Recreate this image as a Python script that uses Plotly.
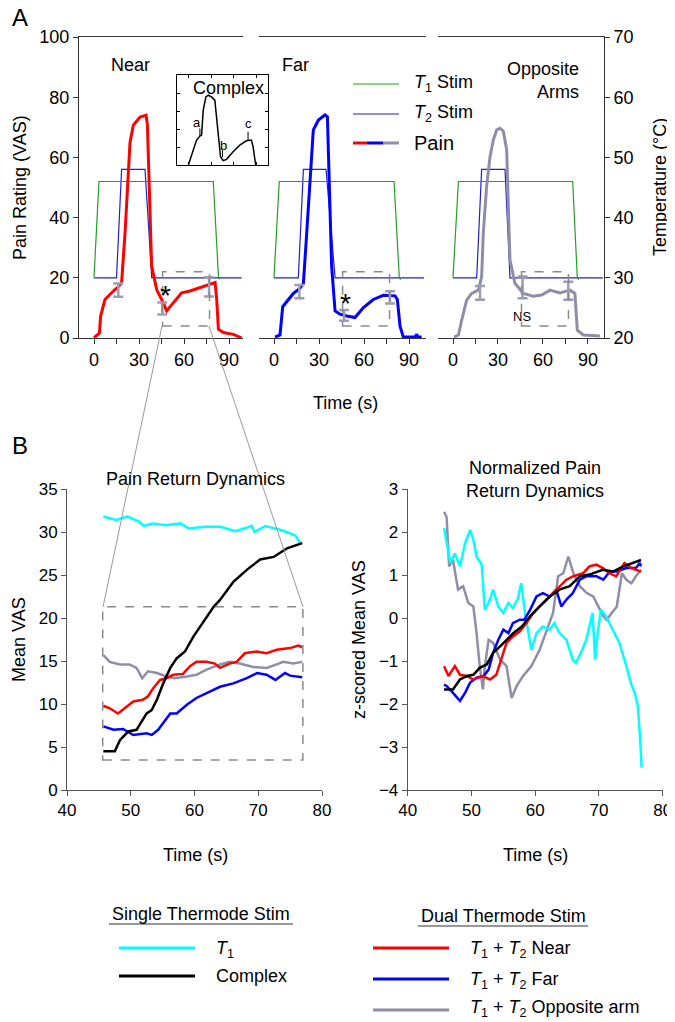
#
#   plot.py
#   Pain ratings during single / dual thermode stimulation (panel A)
#   and pain return dynamics, raw and z-scored (panel B)
#

import plotly.graph_objects as go

#
#   Panel A data : time (s) vs pain (VAS) and thermode temperature (deg C)
#
near_t = [0, 3.6, 4.4, 7.3, 12.9, 16.2, 18.4, 20.7, 24, 26.2, 30.7, 34.7, 35.6, 36.9, 38.4,
          41.8, 46.2, 48.4, 52.9, 58.4, 64, 70.7, 77.3, 80.7, 81.8, 82.9, 86.2, 92.9, 98.4]
near_pain = [0.1, 1.6, 7.2, 12.8, 15.6, 17, 18.4, 35, 65, 70.7, 73.4, 74, 70.7, 46, 24,
             16, 11.7, 9, 11.7, 15, 15.6, 16.7, 17.8, 18.4, 12.8, 2.9, 1.8, 1.2, 0]

far_t = [0.7, 4, 5.8, 8.4, 12.9, 17.3, 19.6, 21.8, 24, 26.2, 29.6, 34, 35.6, 36.9, 38.4,
         40.7, 44, 48.4, 54, 59.6, 66.2, 72.9, 80.7, 82.2, 84, 86.2, 94, 95.1, 96, 98.4]
far_pain = [0.3, 1, 10.4, 12.1, 14.8, 16.5, 18.2, 34.8, 53.6, 69.1, 72.4, 74.1, 73.5, 46, 23.9,
            9, 7.9, 7.3, 6.8, 10.1, 12.8, 14.2, 14, 12.8, 3.9, 0.3, 0.3, 1.2, 0.3, 0.3]

opp_t = [0.7, 3.6, 5.8, 9.1, 12.4, 16.9, 19.1, 20.2, 22.4, 24.7, 26.9, 29.1, 31.3, 33.6, 35.8,
         38, 41.3, 46.9, 53.6, 59.1, 64.7, 71.3, 78, 81.3, 82.9, 86.9, 98]
opp_pain = [0.3, 1, 5.9, 12.6, 14.8, 15.9, 20.3, 34.8, 50.3, 60.2, 65.8, 69.1, 69.7, 68.7, 62.5,
            25.9, 18.2, 14.8, 13.9, 14.3, 15.9, 15, 15.9, 14.8, 2.6, 1, 0.7]

# error bars (mean +/- SEM) at the three sampling times
near_err_t = [16.2, 45.5, 76.7]
near_err_v = [15.9, 9.8, 17.0]
near_err_e = [2.2, 2.0, 3.2]
far_err_t = [16.9, 46.7, 77.3]
far_err_v = [15.4, 7.5, 13.5]
far_err_e = [2.2, 1.8, 2.0]
opp_err_t = [18.0, 46.4, 76.9]
opp_err_v = [15.0, 16.8, 15.7]
opp_err_e = [2.3, 3.6, 3.0]

# thermode temperatures
near_t1_t = [0, 3.3, 79.5, 83, 84]
near_t1_temp = [30, 46, 46, 30, 29.8]
near_t2_t = [0, 15, 18.4, 34, 38.5, 98.4]
near_t2_temp = [30, 30, 48, 48, 30, 30]
far_t1_t = [0, 3.5, 80, 83.5, 84.5]
far_t1_temp = [30, 46, 46, 30, 29.7]
far_t2_t = [0, 16.2, 19.6, 34.7, 40.7, 100]
far_t2_temp = [30, 30, 48, 48, 30, 30]
opp_t1_t = [0, 3.6, 79.8, 82.9, 84]
opp_t1_temp = [30, 46, 46, 30, 29.7]
opp_t2_t = [0, 15.8, 19.1, 34.7, 38, 100]
opp_t2_temp = [30, 30, 48, 48, 30, 30]

# inset : complex stimulus pain profile
cx_t = [0, 6.5, 10.8, 15.2, 17.4, 19.6, 23.1, 26.2, 30.5, 34.9, 37.1, 39.3, 42.4, 45.9,
        50.3, 59, 67.8, 76.5, 83.1, 85.3, 88.8]
cx_v = [0, 16.6, 27.7, 32.1, 33.2, 60.9, 75.6, 77.5, 75.6, 72, 53.5, 27.7, 9.2, 4.8,
        6.3, 14.8, 22.1, 26.9, 27.7, 20.3, 0]

#
#   Panel B data : pain return dynamics (Mean VAS)
#
ret_t1_t = [45.7, 46.7, 47.7, 49.5, 51.3, 52.1, 53.4, 55.5, 57.8, 59.1, 61.7, 64.1, 66.4, 69,
            69.4, 71.1, 73.7, 75.8, 76.6]
ret_t1_v = [31.8, 31.6, 31.4, 31.8, 31.2, 30.7, 31, 30.8, 31, 30.4, 30.6, 30.6, 30.1, 30.7,
            30, 30.7, 30.2, 29.6, 28.7]
ret_cx_t = [45.7, 47.5, 48.3, 49.6, 50.9, 51.7, 52.5, 53.3, 54.1, 55.1, 56.2, 57.2, 58.5, 59.8,
            61.4, 63, 64, 66.1, 68.2, 70.3, 72.4, 74.5, 76.9]
ret_cx_v = [4.5, 4.5, 5.8, 6.8, 7, 8, 8.9, 9.3, 10.5, 12.4, 14.2, 15.3, 16.1, 17.8,
            19.6, 21.3, 22.1, 24.2, 25.6, 26.8, 27.1, 28.1, 28.7]
ret_near_t = [45.7, 46.7, 48, 49.3, 50.4, 51.9, 52.7, 53.5, 54.6, 55.6, 56.7, 58.2, 59.3, 60.3,
              61.9, 63.2, 64, 65.5, 66.6, 67.9, 69.7, 71.3, 72.9, 75, 76.3, 76.9]
ret_near_v = [9.8, 9.5, 8.9, 9.7, 10.3, 10.5, 10.9, 11.8, 12.8, 13, 13.4, 13.5, 14.4, 14.9,
              14.9, 14.7, 14.2, 14.7, 14.9, 15.9, 16.1, 15.9, 16.3, 16.5, 16.8, 16.6]
ret_far_t = [45.7, 47.3, 48.8, 50.4, 52.5, 53.3, 54.3, 55.1, 56.2, 57.2, 58.8, 60.3, 61.4, 63,
             64, 66.1, 68.2, 69.8, 71.3, 72.7, 74.2, 75, 76.9]
ret_far_v = [7.4, 7, 7.1, 6.4, 6.6, 6.4, 7, 7.8, 8.9, 8.9, 9.9, 10.7, 11.1, 11.6,
             12, 12.4, 13, 13.6, 13.4, 12.8, 13.6, 13.3, 13.1]
ret_opp_t = [45.7, 46.7, 48.3, 49.8, 50.9, 51.8, 52.7, 54.1, 55.6, 56.9, 58.8, 60.3, 61.9, 64,
             65.5, 67.1, 69.2, 71.3, 72.9, 73.9, 75.5, 76.9]
ret_opp_v = [15.7, 14.9, 14.6, 14.6, 14.2, 13, 13.8, 13.6, 13.2, 13, 13.2, 13.4, 14, 14.6,
             14.9, 14.7, 14.3, 14.2, 14.6, 14.9, 14.7, 14.9]

#
#   Panel B data : normalized (z-scored) pain return dynamics
#
z_t1_t = [45.7, 46, 46.7, 47.4, 48.2, 49, 49.8, 50.3, 50.8, 51.6, 52.1, 52.9, 53.4, 54.2, 55,
          55.8, 56.5, 57.3, 57.8, 58.4, 58.9, 59.4, 60.2, 61.2, 62.3, 63, 63.8, 64.9, 65.9,
          66.4, 67.2, 68, 69, 69.4, 69.8, 70.3, 71.1, 72.2, 73.2, 74.3, 75, 75.6, 76.1, 76.4, 76.7]
z_t1_v = [2.09, 1.82, 1.28, 1.5, 1.2, 1.74, 2.05, 1.82, 1.43, 1.24, 0.19, 0.43, 0.66, 0.27, 0.12,
          0.35, 0.23, 0.46, 0.81, 0.12, -0.35, -0.74, -0.35, -0.2, -0.27, -0.12, -0.35, -0.51, -0.97,
          -1.04, -0.8, -0.51, 0.12, -0.97, -0.35, 0.19, 0.04, -0.27, -0.58, -1.12, -1.51, -1.74,
          -2.05, -2.67, -3.48]
z_cx_t = [45.7, 47.1, 48.2, 49.3, 50.3, 51.3, 52.4, 53.4, 54.5, 55.5, 56.6, 57.9, 59.2, 60.7,
          62.3, 63.8, 65.4, 67, 68.5, 70.6, 72.2, 73.8, 75.3, 76.6]
z_cx_v = [-1.66, -1.66, -1.43, -1.35, -1.32, -1.16, -1.08, -0.81, -0.66, -0.51, -0.35, -0.2,
          0.04, 0.27, 0.5, 0.66, 0.74, 0.97, 1.01, 1.12, 1.08, 1.2, 1.28, 1.35]
z_near_t = [45.7, 46.4, 47.4, 48.2, 49.3, 50.3, 51.8, 52.9, 53.9, 54.7, 55.5, 56.5, 57.6, 58.6,
            59.7, 60.7, 61.8, 62.8, 63.8, 64.9, 65.9, 67.5, 68.5, 69.6, 70.6, 71.7, 72.7, 74,
            75.1, 75.8, 76.6]
z_near_v = [-1.12, -1.35, -1.12, -1.32, -1.35, -1.43, -1.35, -1.43, -1.32, -0.97, -0.58, -0.43,
            -0.31, -0.12, 0.12, 0.27, 0.43, 0.58, 0.74, 0.89, 0.97, 1.04, 1.2, 1.24, 1.16, 1.04,
            0.97, 1.28, 1.16, 1.12, 1.08]
z_far_t = [45.7, 46.1, 47.1, 48.2, 49, 49.8, 50.8, 51.9, 52.7, 53.4, 54.2, 55, 55.8, 56.5, 57.6,
           58.3, 59.2, 60.2, 61.2, 62.3, 63.3, 64.1, 64.9, 65.9, 67, 68, 69.6, 70.7, 71.7,
           72.8, 74.3, 75.8, 76.4, 76.6]
z_far_v = [-1.55, -1.58, -1.74, -1.93, -1.74, -1.5, -1.39, -1.35, -1.2, -0.81, -0.51, -0.27,
           -0.35, -0.12, -0.04, -0.04, 0.19, 0.5, 0.58, 0.5, 0.66, 0.27, 0.43, 0.58, 0.89, 0.97,
           0.97, 0.89, 1.08, 1.08, 1.16, 1.16, 1.28, 1.2]
z_opp_t = [45.7, 46.1, 46.5, 47.1, 47.9, 48.7, 49.5, 50.3, 50.8, 51.3, 51.8, 52.1, 52.7, 53.4,
           54.5, 55.5, 56.3, 57.1, 58.1, 59.4, 60.7, 61.8, 62.8, 63.6, 64.4, 65.2, 66, 67, 68.1,
           69.1, 69.9, 70.7, 71.2, 72, 72.8, 73.6, 74.3, 75.1, 75.8, 76.6]
z_opp_v = [2.47, 2.35, 1.2, 1.35, 0.66, 0.74, 0.35, 0.27, -0.35, -1.12, -1.66, -1.12, -0.51,
           -0.58, -0.97, -1.12, -1.86, -1.58, -1.35, -1.12, -0.74, -0.27, 0.12, 0.97, 1.04, 1.43,
           1.04, 0.74, 0.58, 0.5, 0.27, 0.04, -0.04, 0.12, 0.27, 1.04, 0.89, 0.81, 0.97, 1.12]

#
#   styles / helpers
#   (page body has an 8px margin, so the figure is 8px smaller and
#    positions below are given in window pixels)
#
OFF = 8
W, H = 675 - OFF, 1022 - OFF
FONT = "Liberation Sans, Arial, sans-serif"
RED, BLUE, GRAY, CYAN, BLACK = '#ff0000', '#0000ff', '#8e8ea8', '#00ffff', '#000000'
GREEN, T2BLUE = '#22a022', '#2020d0'
ERRCOL = '#9c9cb4'
AXCOL = '#333333'


def px(x):
    return (x - OFF) / W


def py(y):
    return 1 - (y - OFF) / H


def line(t, v, color, width, xa, ya):
    return go.Scatter(x=t, y=v, xaxis=xa, yaxis=ya, mode='lines', hoverinfo='skip',
                      line=dict(color=color, width=width), showlegend=False)


def errbars(t, v, e, xa):
    return go.Scatter(x=t, y=v, xaxis=xa, yaxis='y2', mode='markers', hoverinfo='skip',
                      marker=dict(size=1, color=ERRCOL, opacity=0), showlegend=False,
                      error_y=dict(type='data', array=e, color=ERRCOL, thickness=2.5, width=5))


def note(x, y, text, size=18, **kw):
    d = dict(x=px(x), y=py(y), xref='paper', yref='paper', text=text, showarrow=False,
             xanchor='center', yanchor='middle',
             font=dict(size=size, color='black', family=FONT))
    d.update(kw)
    return d


def seg(x0, x1, y, color, width, **kw):
    d = dict(type='line', xref='paper', yref='paper', x0=px(x0), x1=px(x1), y0=py(y), y1=py(y),
             line=dict(color=color, width=width))
    d.update(kw)
    return d


fig = go.Figure()

#   Panel A : temperatures (base axis y) then pain (overlay axis y2)
for xa, (t1t, t1v, t2t, t2v) in zip(['x', 'x2', 'x3'], [
        (near_t1_t, near_t1_temp, near_t2_t, near_t2_temp),
        (far_t1_t, far_t1_temp, far_t2_t, far_t2_temp),
        (opp_t1_t, opp_t1_temp, opp_t2_t, opp_t2_temp)]):
    fig.add_trace(line(t2t, t2v, T2BLUE, 1.2, xa, 'y'))
    fig.add_trace(line(t1t, t1v, GREEN, 1.2, xa, 'y'))

fig.add_trace(line(near_t, near_pain, RED, 3, 'x', 'y2'))
fig.add_trace(line(far_t, far_pain, BLUE, 3, 'x2', 'y2'))
fig.add_trace(line(opp_t, opp_pain, GRAY, 3, 'x3', 'y2'))
fig.add_trace(errbars(near_err_t, near_err_v, near_err_e, 'x'))
fig.add_trace(errbars(far_err_t, far_err_v, far_err_e, 'x2'))
fig.add_trace(errbars(opp_err_t, opp_err_v, opp_err_e, 'x3'))

#   inset
fig.add_trace(line(cx_t, cx_v, BLACK, 1.5, 'x6', 'y5'))

#   Panel B
for (t, v, c) in [(ret_opp_t, ret_opp_v, GRAY), (ret_far_t, ret_far_v, BLUE),
                  (ret_near_t, ret_near_v, RED), (ret_t1_t, ret_t1_v, CYAN),
                  (ret_cx_t, ret_cx_v, BLACK)]:
    fig.add_trace(line(t, v, c, 2.5, 'x4', 'y3'))
for (t, v, c) in [(z_opp_t, z_opp_v, GRAY), (z_t1_t, z_t1_v, CYAN), (z_far_t, z_far_v, BLUE),
                  (z_near_t, z_near_v, RED), (z_cx_t, z_cx_v, BLACK)]:
    fig.add_trace(line(t, v, c, 2.5, 'x5', 'y4'))

#
#   axes
#
ydomA = [py(338), py(37)]
ydomB = [py(790), py(489)]


def xa_A(dom, rng):
    return dict(domain=[px(dom[0]), px(dom[1])], range=rng, anchor='y', tickmode='linear',
                tick0=0, dtick=30, ticks='outside', ticklen=5, tickcolor=AXCOL,
                showline=True, linecolor=AXCOL, mirror=True, showgrid=False, zeroline=False,
                tickfont=dict(size=18), automargin=False,
                minor=dict(ticks='outside', ticklen=5, tick0=0, dtick=15, tickcolor=AXCOL,
                           showgrid=False))


def ax_B(dom, rng, dtick, anchor):
    return dict(domain=dom, range=rng, anchor=anchor, tickmode='linear', dtick=dtick,
                ticks='outside', ticklen=5, tickcolor='#555', showline=True, linecolor='#555',
                showgrid=False, zeroline=False, tickfont=dict(size=17), automargin=False)


inset_ax = dict(showline=True, linecolor=BLACK, mirror='ticks', ticks='inside', ticklen=3,
                tickcolor=BLACK, showticklabels=False, showgrid=False, zeroline=False,
                automargin=False)

fig.update_layout(
    width=W, height=H, margin=dict(l=0, r=0, t=0, b=0, pad=0), autosize=False,
    paper_bgcolor='white', plot_bgcolor='white', showlegend=False,
    font=dict(family=FONT, size=18, color='black'),
    xaxis=xa_A([79, 243], [-10, 99.3]),
    xaxis2=xa_A([259, 426], [-10, 101.3]),
    xaxis3=xa_A([438, 604], [-10, 100.7]),
    yaxis=dict(domain=ydomA, range=[20, 70], anchor='x3', side='right', tickmode='linear',
               dtick=10, ticks='outside', ticklen=5, tickcolor=AXCOL, showline=True,
               linecolor=AXCOL, showgrid=False, zeroline=False, tickfont=dict(size=18),
               automargin=False),
    yaxis2=dict(domain=ydomA, range=[0, 100], anchor='x', side='left', overlaying='y',
                tickmode='linear', dtick=20, ticks='outside', ticklen=5, tickcolor=AXCOL,
                showline=True, linecolor=AXCOL, showgrid=False, zeroline=False,
                tickfont=dict(size=18), automargin=False),
    xaxis4=ax_B([px(67), px(322)], [40, 80], 10, 'y3'),
    yaxis3=ax_B(ydomB, [0, 35], 5, 'x4'),
    xaxis5=ax_B([px(407.7), px(662.7)], [40, 80], 10, 'y4'),
    yaxis4=ax_B(ydomB, [-4, 3], 1, 'x5'),
    xaxis6=dict(domain=[px(177), px(268)], range=[-15, 105], anchor='y5', dtick=30, **inset_ax),
    yaxis5=dict(domain=[py(165), py(75)], range=[0, 100], anchor='x6', dtick=20, **inset_ax),
)

#
#   shapes : zoom boxes, connectors, inset marks, legend keys
#
dash = dict(color='#8a8a8a', width=1.5, dash='dash')
shapes = []
for xa in ['x', 'x2', 'x3']:
    shapes.append(dict(type='rect', xref=xa, yref='y2', x0=45.7, x1=77, y0=4, y1=22, line=dash))
shapes.append(dict(type='rect', xref='x4', yref='y3', x0=45.6, x1=77, y0=3.5, y1=21.3, line=dash))
shapes.append(dict(type='line', xref='paper', yref='paper', x0=px(162), y0=py(326),
                   x1=px(103), y1=py(607), line=dict(color='#999999', width=1)))
shapes.append(dict(type='line', xref='paper', yref='paper', x0=px(209), y0=py(326),
                   x1=px(303), y1=py(607), line=dict(color='#999999', width=1)))
for (xm, y0, y1) in [(15.2, 32, 40.5), (45, 9, 16.5), (78.7, 27.7, 37)]:
    shapes.append(dict(type='line', xref='x6', yref='y5', x0=xm, x1=xm, y0=y0, y1=y1,
                       line=dict(color=BLACK, width=1)))

# panel A key
shapes.append(seg(353, 399, 84, GREEN, 1.2))
shapes.append(seg(353, 399, 114, T2BLUE, 1.2))
shapes.append(seg(353, 367, 143, RED, 3))
shapes.append(seg(367, 383, 143, BLUE, 3))
shapes.append(seg(383, 399, 143, GRAY, 3))
# panel B key
shapes.append(seg(119, 195, 948, CYAN, 3))
shapes.append(seg(119, 195, 976, BLACK, 3))
shapes.append(seg(373, 449, 948, RED, 3))
shapes.append(seg(373, 449, 979, BLUE, 3))
shapes.append(seg(373, 449, 1010, GRAY, 3))
# underlines for key headings
shapes.append(seg(109, 293, 924, '#333333', 1))
shapes.append(seg(418, 588, 926, '#333333', 1))
fig.update_layout(shapes=shapes)

#
#   text
#
T1 = '<i>T</i><sub>1</sub>'
T2 = '<i>T</i><sub>2</sub>'
ann = [
    note(20, 17, 'A', size=24),
    note(20, 445, 'B', size=24),
    note(130, 65, 'Near'),
    note(295, 65, 'Far'),
    note(581, 80, 'Opposite<br>Arms', xanchor='right', align='right'),
    note(228, 88, 'Complex'),
    note(20, 188, 'Pain Rating (VAS)', textangle=-90),
    note(660, 187, 'Temperature (°C)', textangle=-90),
    note(345, 403, 'Time (s)'),
    note(412, 84, T1 + ' Stim', xanchor='left'),
    note(412, 114, T2 + ' Stim', xanchor='left'),
    note(412, 143, 'Pain', size=20, xanchor='left'),
    note(165, 295, '*', size=28),
    note(345, 303, '*', size=28),
    note(522, 316, 'NS', size=13),
    note(195, 479, 'Pain Return Dynamics'),
    note(535, 480, 'Normalized Pain<br>Return Dynamics'),
    note(19, 640, 'Mean VAS', textangle=-90),
    note(359, 640, 'z-scored Mean VAS', textangle=-90),
    note(195, 855, 'Time (s)'),
    note(535, 855, 'Time (s)'),
    note(201, 914, 'Single Thermode Stim'),
    note(503, 916, 'Dual Thermode Stim'),
    note(214, 949, T1, xanchor='left'),
    note(214, 976, 'Complex', xanchor='left'),
    note(468, 949, T1 + ' + ' + T2 + ' Near', xanchor='left'),
    note(468, 980, T1 + ' + ' + T2 + ' Far', xanchor='left'),
    note(468, 1008, T1 + ' + ' + T2 + ' Opposite arm', xanchor='left'),
]
# inset point labels
for (xl, yl, lab) in [(10.8, 47, 'a'), (46.8, 22, 'b'), (78.7, 46, 'c')]:
    ann.append(dict(x=xl, y=yl, xref='x6', yref='y5', text=lab, showarrow=False,
                    xanchor='center', yanchor='middle',
                    font=dict(size=13, color='black', family=FONT)))
fig.update_layout(annotations=ann)

fig.write_html("out.html")
